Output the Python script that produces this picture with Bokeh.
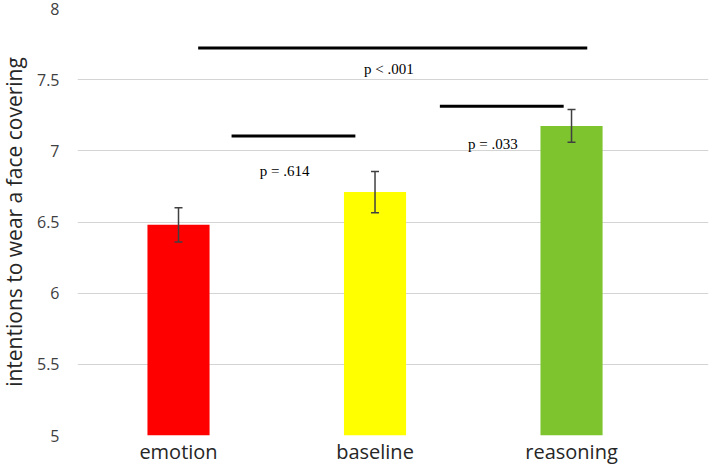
from bokeh.plotting import figure
from bokeh.models import ColumnDataSource, Whisker, FixedTicker, Range1d, TeeHead
from bokeh.core.properties import value
from bokeh.embed import file_html
from bokeh.resources import INLINE

conditions = ["emotion", "baseline", "reasoning"]
means = [6.48, 6.71, 7.175]
errors = [0.12, 0.145, 0.115]
colors = ["#FF0000", "#FFFF00", "#7DC42F"]

cmp_labels = ["p = .614", "p = .033", "p < .001"]
cmp_x0 = [0.27, 1.33, 0.10]
cmp_x1 = [0.90, 1.96, 2.08]
cmp_y = [7.105, 7.313, 7.723]
label_x = [0.54, 1.60, 1.07]
label_y = [6.855, 7.05, 7.577]

y_ticks = [5, 5.5, 6, 6.5, 7, 7.5, 8]
y_tick_labels = ["5", "5.5", "6", "6.5", "7", "7.5", "8"]

xpos = list(range(len(conditions)))
src = ColumnDataSource(dict(
    x=xpos, top=means, color=colors,
    upper=[m + e for m, e in zip(means, errors)],
    lower=[m - e for m, e in zip(means, errors)],
))

p = figure(width=717, height=467, output_backend="svg", toolbar_location=None,
           x_range=Range1d(-0.514, 2.697), y_range=Range1d(5, 8),
           min_border_left=85, min_border_right=1, min_border_top=8,
           min_border_bottom=32)
p.styles = {"margin-left": "-8px"}
p.outline_line_color = None
p.background_fill_color = "white"

p.vbar(x="x", top="top", bottom=5, width=0.316, fill_color="color",
       line_color=None, source=src)

w = Whisker(base="x", upper="upper", lower="lower", source=src,
            line_color="#404040", line_width=1.5, level="annotation",
            upper_head=TeeHead(size=8, line_color="#404040", line_width=1.5),
            lower_head=TeeHead(size=8, line_color="#404040", line_width=1.5))
p.add_layout(w)

p.segment(x0=cmp_x0, y0=cmp_y, x1=cmp_x1, y1=cmp_y, line_color="black",
          line_width=3)
p.text(x=label_x, y=label_y, text=cmp_labels,
       text_font=value("Liberation Serif"), text_font_size="15px",
       text_align="center", text_baseline="middle", text_color="black")

# axes
p.xaxis.ticker = FixedTicker(ticks=xpos)
p.xaxis.major_label_overrides = {i: c for i, c in zip(xpos, conditions)}
p.xaxis.major_label_text_font = "Open Sans"
p.xaxis.major_label_text_font_size = "20px"
p.xaxis.major_label_text_color = "#262626"
p.xaxis.major_label_standoff = 2
p.xaxis.axis_line_color = None
p.xaxis.major_tick_line_color = None
p.xaxis.minor_tick_line_color = None
p.xaxis.major_tick_out = 0
p.xaxis.major_tick_in = 0
p.xaxis.minor_tick_out = 0
p.xaxis.minor_tick_in = 0
p.xaxis.axis_label = None
p.xgrid.grid_line_color = None

p.yaxis.ticker = FixedTicker(ticks=y_ticks)
p.yaxis.major_label_overrides = {t: l for t, l in zip(y_ticks, y_tick_labels)}
p.yaxis.major_label_text_font = "Open Sans"
p.yaxis.major_label_text_font_size = "16px"
p.yaxis.major_label_text_color = "#404040"
p.yaxis.major_label_standoff = 18
p.yaxis.major_tick_out = 0
p.yaxis.major_tick_in = 0
p.yaxis.minor_tick_out = 0
p.yaxis.minor_tick_in = 0
p.yaxis.axis_line_color = None
p.yaxis.major_tick_line_color = None
p.yaxis.minor_tick_line_color = None
p.yaxis.axis_label = "intentions to wear a face covering"
p.yaxis.axis_label_text_font = "Open Sans"
p.yaxis.axis_label_text_font_style = "normal"
p.yaxis.axis_label_text_font_size = "21px"
p.yaxis.axis_label_text_color = "#262626"
p.yaxis.axis_label_standoff = 6
p.ygrid.grid_line_color = "#d4d4d4"
p.ygrid.grid_line_width = 1

open("out.html", "w").write(file_html(p, INLINE))
